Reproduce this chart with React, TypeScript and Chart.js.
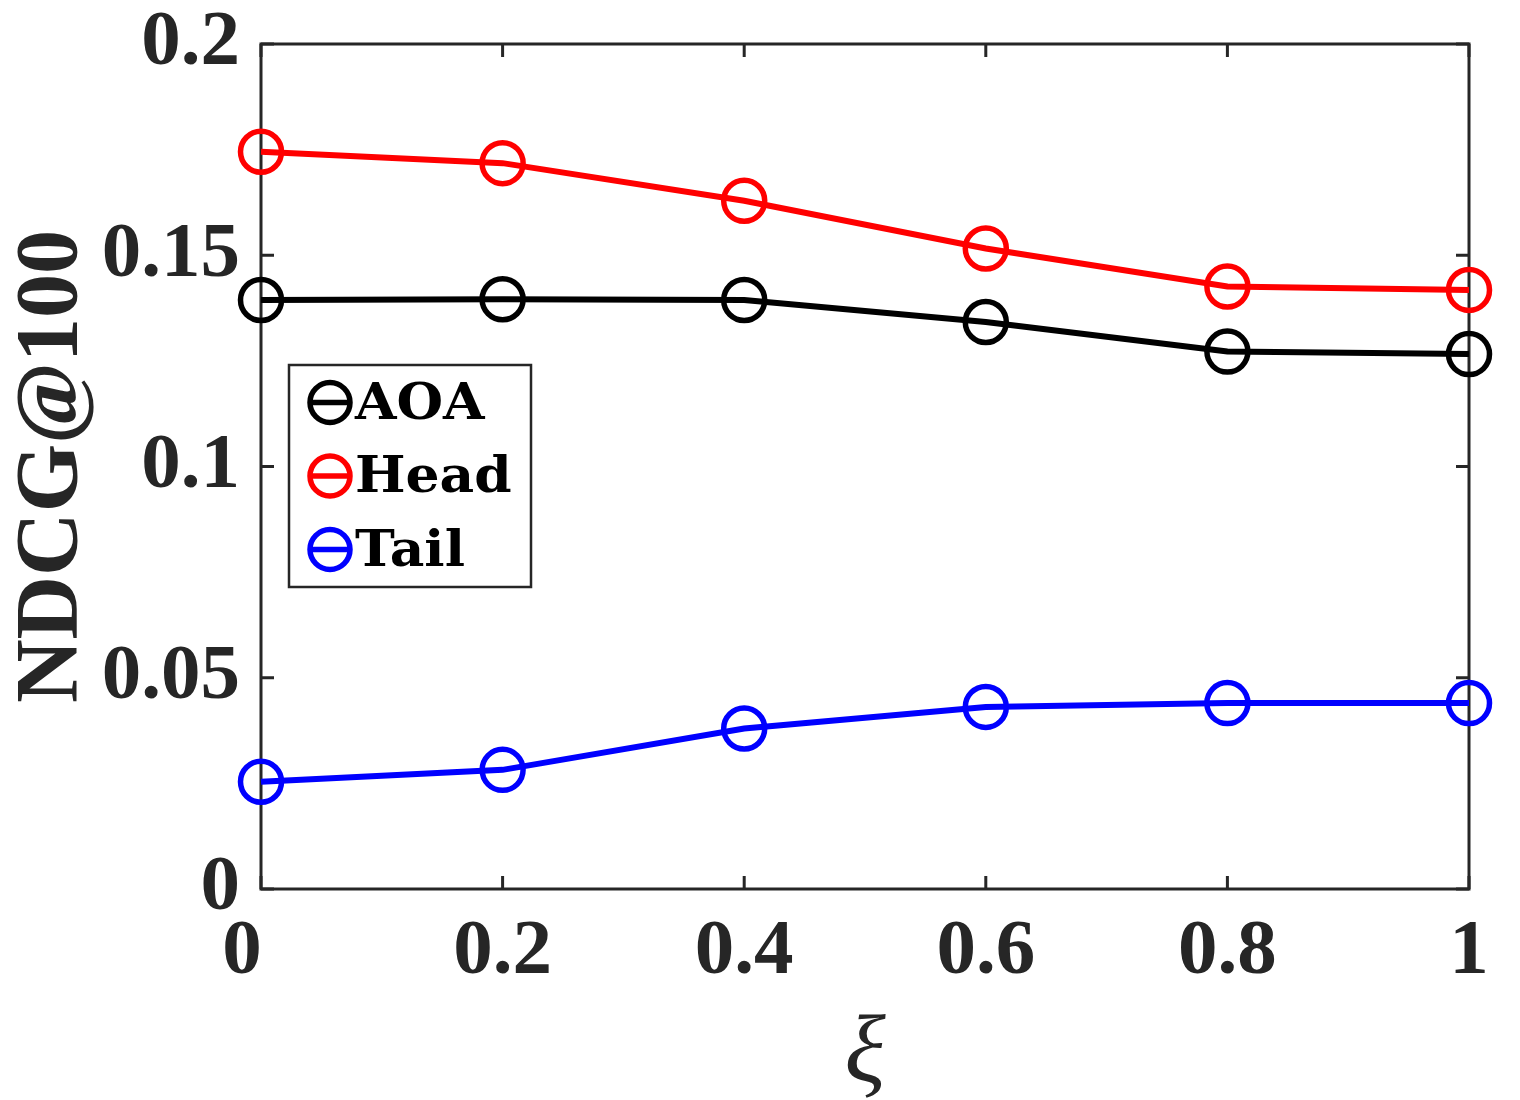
import React, { useEffect, useRef } from "react";
import { Chart, registerables } from "chart.js";

Chart.register(...registerables);

const xValues = [0, 0.2, 0.4, 0.6, 0.8, 1];
const aoaValues = [0.1394, 0.1396, 0.1394, 0.1342, 0.1272, 0.1266];
const headValues = [0.1745, 0.1718, 0.1629, 0.1516, 0.1426, 0.1418];
const tailValues = [0.0254, 0.0282, 0.038, 0.0431, 0.044, 0.044];
const seriesNames = ["AOA", "Head", "Tail"];
const seriesColors = ["#000000", "#ff0000", "#0000ff"];
const xTicks = [0, 0.2, 0.4, 0.6, 0.8, 1];
const yTicks = [0, 0.05, 0.1, 0.15, 0.2];
const xTitle = "ξ";
const yTitle = "NDCG@100";

const FONT = "'Liberation Serif', 'Times New Roman', serif";
const LEGEND_FONT = "'DejaVu Serif', serif";
const AXIS_COLOR = "#262626";
const TICK_FONT_SIZE = 79;

const fmt = (v: number) => String(Number(v.toFixed(2)));

const framePlugin = {
  id: "matlabFrame",
  beforeDatasetsDraw(chart: any) {
    const { ctx, chartArea: a, scales } = chart;
    ctx.save();
    ctx.strokeStyle = AXIS_COLOR;
    ctx.lineWidth = 3;
    ctx.strokeRect(a.left, a.top, a.right - a.left, a.bottom - a.top);
    const tl = 13;
    ctx.beginPath();
    xTicks.forEach((v) => {
      const px = scales.x.getPixelForValue(v);
      ctx.moveTo(px, a.bottom);
      ctx.lineTo(px, a.bottom - tl);
      ctx.moveTo(px, a.top);
      ctx.lineTo(px, a.top + tl);
    });
    yTicks.forEach((v) => {
      const py = scales.y.getPixelForValue(v);
      ctx.moveTo(a.left, py);
      ctx.lineTo(a.left + tl, py);
      ctx.moveTo(a.right, py);
      ctx.lineTo(a.right - tl, py);
    });
    ctx.stroke();

    // x tick labels (first label nudged left as in the source figure)
    ctx.fillStyle = AXIS_COLOR;
    ctx.font = `bold ${TICK_FONT_SIZE}px ${FONT}`;
    ctx.textAlign = "center";
    ctx.textBaseline = "top";
    xTicks.forEach((v, i) => {
      const px = scales.x.getPixelForValue(v) + (i === 0 ? -19 : 0);
      ctx.fillText(fmt(v), px, a.bottom + 24);
    });
    ctx.restore();
  },
  afterDatasetsDraw(chart: any) {
    const { ctx, chartArea: a } = chart;
    const bx = a.left + 28;
    const by = a.top + 321;
    const bw = 242;
    const bh = 222;
    ctx.save();
    ctx.fillStyle = "#ffffff";
    ctx.fillRect(bx, by, bw, bh);
    ctx.strokeStyle = AXIS_COLOR;
    ctx.lineWidth = 2.5;
    ctx.strokeRect(bx, by, bw, bh);
    ctx.font = `bold 50px ${LEGEND_FONT}`;
    ctx.textBaseline = "alphabetic";
    ctx.textAlign = "left";
    seriesNames.forEach((name, i) => {
      const cy = by + 37.5 + i * 73.5;
      const cx = bx + 41;
      ctx.strokeStyle = seriesColors[i];
      ctx.lineWidth = 5.5;
      ctx.beginPath();
      ctx.moveTo(cx - 21, cy);
      ctx.lineTo(cx + 21, cy);
      ctx.stroke();
      ctx.beginPath();
      ctx.arc(cx, cy, 20, 0, Math.PI * 2);
      ctx.stroke();
      ctx.fillStyle = "#000000";
      ctx.save();
      ctx.translate(bx + 66, cy + 16);
      ctx.scale(1.07, 1);
      ctx.fillText(name, 0, 0);
      ctx.restore();
    });
    ctx.restore();
  },
};

export default function App() {
  const ref = useRef<HTMLCanvasElement | null>(null);

  useEffect(() => {
    document.body.style.margin = "0";
    const canvas = ref.current;
    if (!canvas) return;
    const series = [aoaValues, headValues, tailValues];
    const chart = new Chart(canvas, {
      type: "line",
      data: {
        datasets: series.map((vals, i) => ({
          label: seriesNames[i],
          data: vals.map((y, j) => ({ x: xValues[j], y })),
          borderColor: seriesColors[i],
          backgroundColor: "transparent",
          borderWidth: 6,
          pointRadius: 20.5,
          pointHoverRadius: 20.5,
          pointBorderWidth: 5.5,
          pointBorderColor: seriesColors[i],
          pointBackgroundColor: "rgba(0,0,0,0)",
          tension: 0,
          clip: false as any,
        })),
      },
      options: {
        animation: false,
        responsive: false,
        devicePixelRatio: 1,
        layout: { padding: { top: 44, right: 51, left: 0, bottom: 0 } },
        plugins: {
          legend: { display: false },
          tooltip: { enabled: false },
        },
        scales: {
          x: {
            type: "linear",
            min: 0,
            max: 1,
            afterBuildTicks: (s: any) => {
              s.ticks = xTicks.map((v) => ({ value: v }));
            },
            afterFit: (s: any) => {
              s.height = 211;
              s.paddingLeft = 0;
              s.paddingRight = 0;
            },
            grid: { display: false, drawTicks: false },
            border: { display: false },
            ticks: { display: false },
            title: {
              display: true,
              text: xTitle,
              color: AXIS_COLOR,
              font: { family: FONT, style: "italic", size: 96, lineHeight: 1 },
              padding: { top: 0, bottom: -4 },
            },
          },
          y: {
            type: "linear",
            min: 0,
            max: 0.2,
            afterBuildTicks: (s: any) => {
              s.ticks = yTicks.map((v) => ({ value: v }));
            },
            afterFit: (s: any) => {
              s.width = 261;
              s.paddingTop = 0;
              s.paddingBottom = 0;
            },
            grid: { display: false, drawTicks: false },
            border: { display: false },
            ticks: {
              padding: 21,
              color: AXIS_COLOR,
              font: { family: FONT, weight: "bold", size: TICK_FONT_SIZE, lineHeight: 1 },
              callback: (v: any) => fmt(Number(v)),
              autoSkip: false,
            },
            title: {
              display: true,
              text: yTitle,
              color: AXIS_COLOR,
              font: { family: FONT, weight: "bold", size: 88, lineHeight: 1 },
              padding: { top: 9, bottom: 0 },
            },
          },
        },
      },
      plugins: [framePlugin],
    } as any);
    return () => chart.destroy();
  }, []);

  return (
    <div style={{ width: 1520, height: 1100, background: "#ffffff" }}>
      <canvas ref={ref} width={1520} height={1100} style={{ display: "block" }} />
    </div>
  );
}
